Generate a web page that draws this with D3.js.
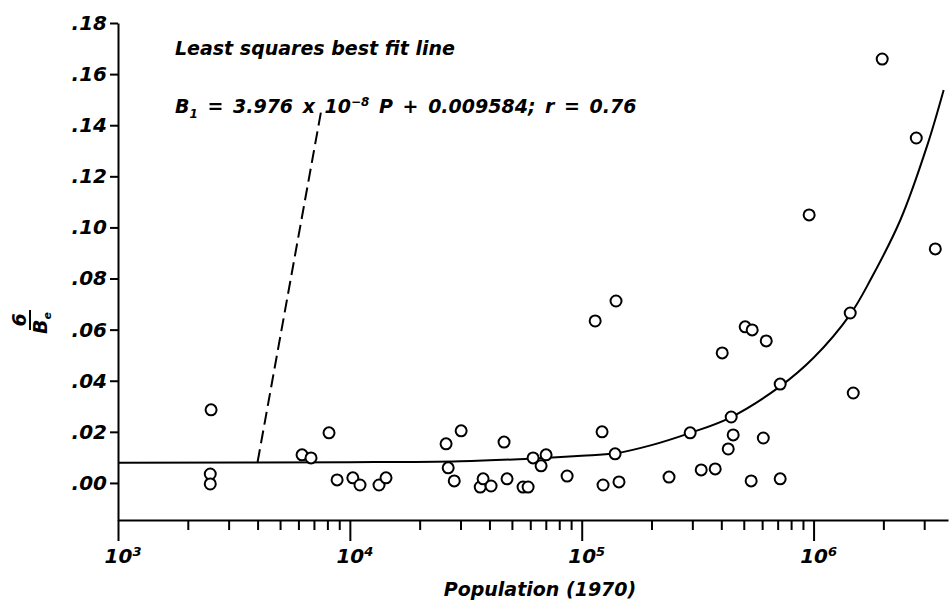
<!DOCTYPE html>
<html lang="en">
<head>
    <meta charset="UTF-8">
    <title>Population (1970) vs 6/Be</title>
    <script src="https://cdnjs.cloudflare.com/ajax/libs/d3/7.8.5/d3.min.js"></script>
    <style>
        body {
            margin: 0;
            background-color: #fff;
        }
        svg {
            display: block;
            font-family: "DejaVu Sans", sans-serif;
            font-style: italic;
            font-weight: bold;
        }
    </style>
</head>
<body>
    <svg id="chart" width="950" height="605"></svg>
    <script>
        // Observed cities: population (1970) and 6/Be
        const population = [
            2520, 2500, 2500, 6220, 6800, 8130, 8810, 10300, 11060, 13360,
            14320, 26000, 30200, 26550, 28200, 36500, 37560, 40650, 46240, 47640,
            55850, 58720, 61700, 70200, 66800, 86500, 122400, 139300, 123600, 144800,
            114300, 140600, 238000, 293600, 327600, 376500, 403600, 428500, 450000, 441300,
            507000, 543500, 538000, 625000, 607000, 717800, 717800, 957000, 1439000, 1483000,
            1977000, 2773000, 3350000
        ];
        const ratio = [
            0.0286, 0.0035, -0.0004, 0.0110, 0.0098, 0.0196, 0.0012, 0.0020, -0.0008, -0.0008,
            0.0020, 0.0153, 0.0204, 0.0059, 0.0008, -0.0016, 0.0016, -0.0012, 0.0160, 0.0016,
            -0.0016, -0.0016, 0.0098, 0.0110, 0.0067, 0.0027, 0.0200, 0.0114, -0.0008, 0.0004,
            0.0634, 0.0712, 0.0023, 0.0196, 0.0051, 0.0055, 0.0509, 0.0133, 0.0188, 0.0258,
            0.0611, 0.0599, 0.0008, 0.0556, 0.0176, 0.0387, 0.0016, 0.1049, 0.0665, 0.0352,
            0.1659, 0.1350, 0.0916
        ];

        // Best fit curve as drawn
        const fitPopulation = [1000, 10000, 30000, 60000, 100000, 140000, 200000, 292000, 435000, 715000, 1000000, 1440000, 1760000, 2370000, 3090000, 3640000];
        const fitRatio = [0.0079, 0.0081, 0.0085, 0.0095, 0.0106, 0.0116, 0.0148, 0.0195, 0.0255, 0.0377, 0.0490, 0.0660, 0.0795, 0.1030, 0.1320, 0.1538];

        // Dashed pointer from the label to the fit line
        const pointerPopulation = [4000, 7500];
        const pointerRatio = [0.0082, 0.145];

        const yTicks = [0, 0.02, 0.04, 0.06, 0.08, 0.10, 0.12, 0.14, 0.16, 0.18];
        const xMajor = [1e3, 1e4, 1e5, 1e6];
        const xMajorExp = ["3", "4", "5", "6"];

        const points = population.map((p, i) => ({ p: p, v: ratio[i] }));
        const fit = fitPopulation.map((p, i) => ({ p: p, v: fitRatio[i] }));
        const pointer = pointerPopulation.map((p, i) => ({ p: p, v: pointerRatio[i] }));

        const svg = d3.select("#chart");

        const x = d3.scaleLog()
            .domain([1000, 3.8e6])
            .range([118, 948]);

        const y = d3.scaleLinear()
            .domain([-0.0145, 0.18])
            .range([520, 23]);

        // Minor ticks on x
        const minor = x.ticks().filter(t => !xMajor.includes(t));
        svg.append("g")
            .attr("transform", "translate(0,520)")
            .call(d3.axisBottom(x).tickValues(minor).tickSize(10).tickSizeOuter(0).tickFormat(""))
            .call(g => g.selectAll("path, line").attr("stroke", "#000").attr("stroke-width", 2));

        // Major ticks on x
        svg.append("g")
            .attr("transform", "translate(0,520)")
            .call(d3.axisBottom(x).tickValues(xMajor).tickSize(21).tickSizeOuter(0).tickFormat(""))
            .call(g => g.select(".domain").remove())
            .call(g => g.selectAll("line").attr("stroke", "#000").attr("stroke-width", 2));

        const xLabels = svg.append("g")
            .attr("font-size", 20);
        xMajor.forEach((t, i) => {
            const txt = xLabels.append("text")
                .attr("x", x(t) + 5)
                .attr("y", 563)
                .attr("text-anchor", "middle");
            txt.append("tspan").text("10");
            txt.append("tspan")
                .attr("dy", -7)
                .attr("font-size", 13)
                .text(xMajorExp[i]);
        });

        // Y axis
        svg.append("g")
            .attr("transform", "translate(118,0)")
            .call(d3.axisLeft(y).tickValues(yTicks).tickSize(8).tickSizeOuter(0).tickPadding(3)
                .tickFormat(d => d3.format(".2f")(d).replace(/^0/, "")))
            .call(g => g.selectAll("path, line").attr("stroke", "#000").attr("stroke-width", 2))
            .call(g => g.selectAll("text")
                .attr("font-family", "DejaVu Sans, sans-serif")
                .attr("font-size", 20)
                .attr("fill", "#000"));

        // Fit curve
        svg.append("path")
            .datum(fit)
            .attr("fill", "none")
            .attr("stroke", "#000")
            .attr("stroke-width", 2)
            .attr("d", d3.line()
                .x(d => x(d.p))
                .y(d => y(d.v))
                .curve(d3.curveCatmullRom.alpha(0.5)));

        // Dashed pointer
        svg.append("path")
            .datum(pointer)
            .attr("fill", "none")
            .attr("stroke", "#000")
            .attr("stroke-width", 2)
            .attr("stroke-dasharray", "13,6")
            .attr("d", d3.line().x(d => x(d.p)).y(d => y(d.v)));

        // Points
        svg.append("g")
            .selectAll("circle")
            .data(points)
            .join("circle")
            .attr("cx", d => x(d.p))
            .attr("cy", d => y(d.v))
            .attr("r", 5.5)
            .attr("fill", "#fff")
            .attr("stroke", "#000")
            .attr("stroke-width", 2);

        // Annotation
        svg.append("text")
            .attr("x", 175)
            .attr("y", 55)
            .attr("font-size", 19)
            .text("Least squares best fit line");

        const eq = svg.append("text")
            .attr("x", 175)
            .attr("y", 113)
            .attr("font-size", 19)
            .attr("word-spacing", 3);
        eq.append("tspan").text("B");
        eq.append("tspan").attr("dy", 5).attr("font-size", 12).text("1");
        eq.append("tspan").attr("dy", -5).text(" = 3.976 x 10");
        eq.append("tspan").attr("dy", -7).attr("font-size", 12).text("\u22128");
        eq.append("tspan").attr("dy", 7).text(" P + 0.009584; r = 0.76");

        // X label
        svg.append("text")
            .attr("x", 540)
            .attr("y", 596)
            .attr("text-anchor", "middle")
            .attr("font-size", 19)
            .text("Population (1970)");

        // Y label: fraction 6 / Be
        const yl = svg.append("g")
            .attr("transform", "translate(30,320) rotate(-90)");
        yl.append("text")
            .attr("x", 0)
            .attr("y", -4)
            .attr("text-anchor", "middle")
            .attr("font-size", 19)
            .text("6");
        yl.append("line")
            .attr("x1", -10)
            .attr("x2", 10)
            .attr("y1", 0)
            .attr("y2", 0)
            .attr("stroke", "#000")
            .attr("stroke-width", 2);
        const be = yl.append("text")
            .attr("x", -3)
            .attr("y", 17)
            .attr("text-anchor", "middle")
            .attr("font-size", 19);
        be.append("tspan").text("B");
        be.append("tspan").attr("dy", 4).attr("font-size", 11).text("e");
    </script>
</body>
</html>
